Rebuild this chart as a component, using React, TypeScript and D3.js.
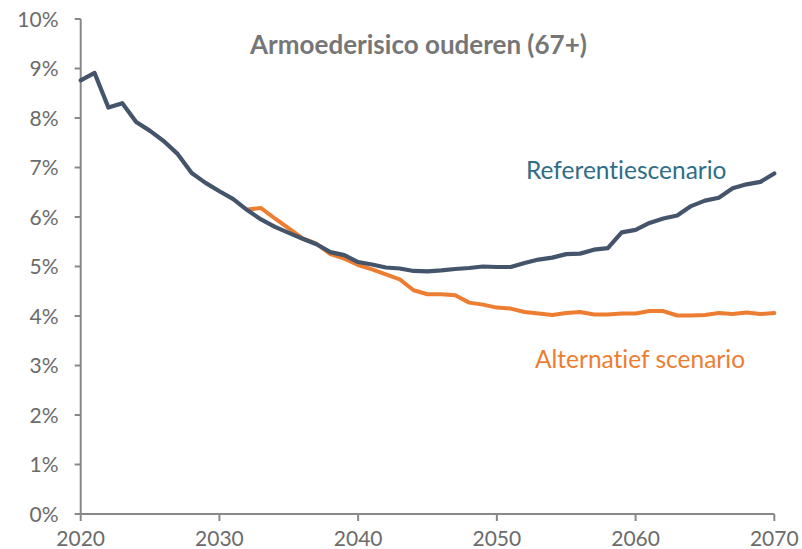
import React from "react";
import * as d3 from "d3";

const years: number[] = d3.range(2020, 2071);
const referentie: number[] = [
  8.76, 8.91, 8.21, 8.30, 7.92, 7.74, 7.53, 7.27, 6.89, 6.69,
  6.52, 6.36, 6.14, 5.95, 5.80, 5.68, 5.56, 5.45, 5.29, 5.23,
  5.09, 5.04, 4.98, 4.96, 4.91, 4.90, 4.92, 4.95, 4.97, 5.00,
  4.99, 4.99, 5.07, 5.14, 5.18, 5.25, 5.26, 5.34, 5.37, 5.69,
  5.74, 5.88, 5.97, 6.03, 6.22, 6.33, 6.39, 6.58, 6.66, 6.71,
  6.88,
];
const altStartYear = 2032;
const alternatief: number[] = [
  6.15, 6.18, 5.97, 5.77, 5.57, 5.46, 5.25, 5.16,
  5.03, 4.94, 4.84, 4.74, 4.52, 4.44, 4.44, 4.42, 4.27, 4.23,
  4.17, 4.15, 4.08, 4.05, 4.02, 4.06, 4.08, 4.03, 4.03, 4.05,
  4.05, 4.10, 4.10, 4.01, 4.01, 4.02, 4.06, 4.04, 4.07, 4.04,
  4.06,
];
const xTicks: number[] = [2020, 2030, 2040, 2050, 2060, 2070];
const yTicks: number[] = d3.range(0, 11);
const title = "Armoederisico ouderen (67+)";
const refLabel = "Referentiescenario";
const altLabel = "Alternatief scenario";

export default function App() {
  const W = 802, H = 549;
  const x = d3.scaleLinear().domain([2020, 2070]).range([80.7, 774.3]);
  const y = d3.scaleLinear().domain([0, 10]).range([514, 19]);
  const line = d3
    .line<[number, number]>()
    .x((d) => x(d[0]))
    .y((d) => y(d[1]));
  const refData: [number, number][] = years.map((yr, i) => [yr, referentie[i]]);
  const altData: [number, number][] = alternatief.map((v, i) => [altStartYear + i, v]);
  const axisColor = "#888888";
  const labelColor = "#6b6b6b";
  const font = "Lato, 'Open Sans', sans-serif";
  const noLig = { fontVariantLigatures: "none" as const, fontFeatureSettings: "'liga' 0, 'dlig' 0" };
  return (
    <svg
      width={W}
      height={H}
      style={{ position: "absolute", left: 0, top: 0, background: "#fff", ...noLig }}
      fontFamily={font}
    >
      <text x={418.5} y={53.5} textAnchor="middle" fontSize={26} fontWeight="bold" fill="#767676">
        {title}
      </text>
      {/* y axis */}
      <line x1={x(2020)} x2={x(2020)} y1={y(10)} y2={y(0)} stroke={axisColor} strokeWidth={2} />
      {yTicks.map((t) => (
        <g key={"y" + t}>
          <line x1={x(2020) - 6} x2={x(2020)} y1={y(t)} y2={y(t)} stroke={axisColor} strokeWidth={2} />
          <text x={58.5} y={y(t)} dy="0.36em" textAnchor="end" fontSize={21} fill={labelColor}>
            {t + "%"}
          </text>
        </g>
      ))}
      {/* x axis */}
      <line x1={x(2020)} x2={x(2070)} y1={y(0)} y2={y(0)} stroke={axisColor} strokeWidth={2} />
      {xTicks.map((t) => (
        <g key={"x" + t}>
          <line x1={x(t)} x2={x(t)} y1={y(0)} y2={y(0) + 7} stroke={axisColor} strokeWidth={2} />
          <text x={x(t)} y={545.5} textAnchor="middle" fontSize={21} fill={labelColor}>
            {t}
          </text>
        </g>
      ))}
      <path d={line(altData) || ""} fill="none" stroke="#ED7D31" strokeWidth={4} strokeLinejoin="round" strokeLinecap="round" />
      <path d={line(refData) || ""} fill="none" stroke="#44546A" strokeWidth={4.2} strokeLinejoin="round" strokeLinecap="round" />
      <text x={526} y={178.5} fontSize={24.5} fill="#2E6E88">
        {refLabel}
      </text>
      <text x={535} y={367.5} fontSize={24.5} fill="#ED7D31">
        {altLabel}
      </text>
    </svg>
  );
}
